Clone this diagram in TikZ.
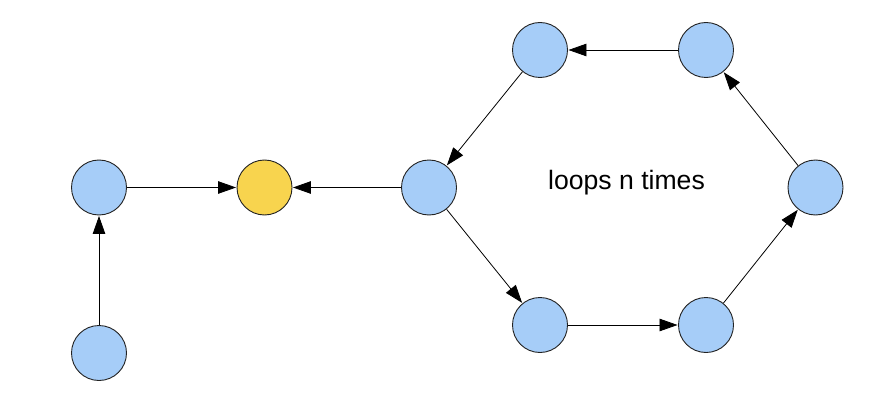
\documentclass[tikz,border=0pt]{standalone}
\usepackage{fontspec}
\setmainfont{Liberation Sans}
\usetikzlibrary{arrows.meta}
\definecolor{nodeblue}{HTML}{A6CDF8}
\definecolor{nodeyellow}{HTML}{F8D44E}
\definecolor{edgegray}{HTML}{222222}
\begin{document}
\begin{tikzpicture}[x=1pt,y=-1pt,
  vert/.style={circle,draw=edgegray,line width=0.9pt,fill=nodeblue,minimum size=55pt,inner sep=0pt},
  goal/.style={vert,fill=nodeyellow},
  conn/.style={draw=black,line width=0.8pt,-{Triangle[length=18pt,width=12.5pt]},shorten >=0.5pt}]
\useasboundingbox (0,0) rectangle (882,414);
\node[vert] (a) at (99,353) {};
\node[vert] (b) at (99,187.5) {};
\node[goal] (c) at (264.5,187.5) {};
\node[vert] (d) at (429,187.5) {};
\node[vert] (e) at (540,50) {};
\node[vert] (f) at (706,50) {};
\node[vert] (g) at (815.5,187.5) {};
\node[vert] (h) at (706,325) {};
\node[vert] (i) at (540,325) {};
\node[anchor=base,font=\fontsize{26.6}{30}\selectfont,inner sep=0pt] (lbl) at (626.5,189.5) {loops n times};
\draw[conn] (a) -- (b);
\draw[conn] (b) -- (c);
\draw[conn] (d) -- (c);
\draw[conn] (f) -- (e);
\draw[conn] (e) -- (d);
\draw[conn] (d) -- (i);
\draw[conn] (i) -- (h);
\draw[conn] (h) -- (g);
\draw[conn] (g) -- (f);
\end{tikzpicture}
\end{document}
